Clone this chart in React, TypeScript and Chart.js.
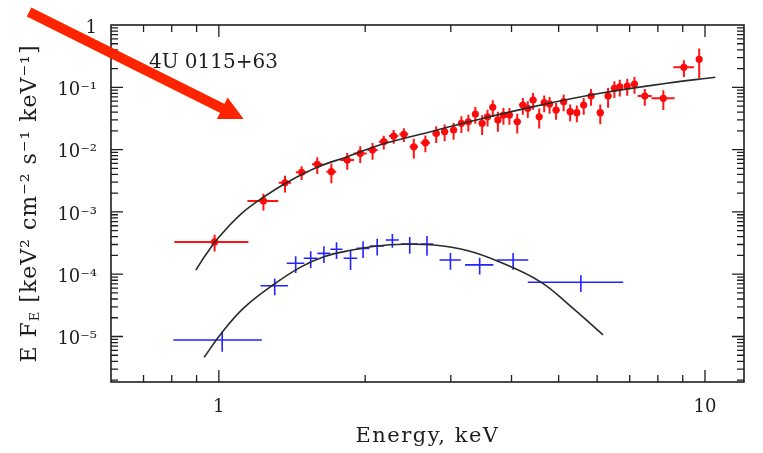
import React, { useEffect, useRef } from 'react';
import { Chart, registerables } from 'chart.js';

Chart.register(...registerables);

// ---- Red spectrum (data points) ----
const redEnergy = [0.98, 1.235, 1.368, 1.48, 1.594, 1.704, 1.837, 1.954, 2.071, 2.184, 2.289, 2.402, 2.518, 2.66, 2.8, 2.914, 3.04, 3.155, 3.26, 3.37, 3.48, 3.57, 3.66, 3.75, 3.85, 3.96, 4.11, 4.22, 4.32, 4.43, 4.56, 4.67, 4.79, 4.94, 5.12, 5.28, 5.45, 5.63, 5.83, 6.09, 6.32, 6.51, 6.68, 6.92, 7.16, 7.52, 8.21, 9.05, 9.73];
const redFlux = [3.3e-4, 1.5e-3, 2.94e-3, 4.32e-3, 5.81e-3, 4.42e-3, 6.81e-3, 8.7e-3, 9.86e-3, 1.34e-2, 1.65e-2, 1.76e-2, 1.11e-2, 1.29e-2, 1.82e-2, 1.94e-2, 2.06e-2, 2.64e-2, 2.8e-2, 3.73e-2, 2.64e-2, 3.37e-2, 4.77e-2, 2.99e-2, 3.59e-2, 3.59e-2, 2.8e-2, 5.2e-2, 4.6e-2, 6.25e-2, 3.37e-2, 5.66e-2, 5.4e-2, 4.32e-2, 5.87e-2, 4.06e-2, 3.92e-2, 5.2e-2, 7.25e-2, 3.92e-2, 7.25e-2, 9.64e-2, 0.102, 0.105, 0.113, 7.25e-2, 6.65e-2, 0.209, 0.281];
const redEnergyErr = [0.17, 0.09, 0.04, 0.04, 0.04, 0.04, 0.06, 0.06, 0.05, 0.05, 0.05, 0.05, 0.05, 0.06, 0.05, 0.05, 0.05, 0.05, 0.05, 0.05, 0.05, 0.05, 0.05, 0.05, 0.05, 0.05, 0.07, 0.07, 0.07, 0.07, 0.07, 0.07, 0.07, 0.08, 0.08, 0.08, 0.08, 0.09, 0.09, 0.1, 0.1, 0.1, 0.1, 0.1, 0.12, 0.25, 0.45, 0.44, 0.1];
const redFluxRel = [0.3, 0.3, 0.3, 0.25, 0.3, 0.35, 0.3, 0.3, 0.3, 0.25, 0.25, 0.25, 0.35, 0.3, 0.3, 0.3, 0.3, 0.3, 0.3, 0.3, 0.35, 0.3, 0.3, 0.35, 0.3, 0.3, 0.35, 0.3, 0.3, 0.3, 0.35, 0.3, 0.3, 0.3, 0.3, 0.3, 0.3, 0.3, 0.3, 0.35, 0.35, 0.3, 0.3, 0.3, 0.3, 0.3, 0.35, 0.3, 0.5];

// ---- Blue spectrum (data points) ----
const blueEnergy = [1.016, 1.303, 1.439, 1.545, 1.645, 1.746, 1.866, 1.98, 2.117, 2.275, 2.47, 2.68, 2.995, 3.44, 4.03, 5.555];
const blueFlux = [8.8e-6, 6.54e-5, 1.5e-4, 1.8e-4, 2.16e-4, 2.51e-4, 1.8e-4, 2.6e-4, 2.84e-4, 3.54e-4, 3.05e-4, 3.05e-4, 1.69e-4, 1.41e-4, 1.69e-4, 7.41e-5];
const blueEnergyErr = [0.21, 0.085, 0.06, 0.05, 0.05, 0.05, 0.06, 0.06, 0.07, 0.07, 0.1, 0.08, 0.15, 0.23, 0.3, 1.235];
const blueFluxRel = [0.35, 0.3, 0.3, 0.3, 0.3, 0.3, 0.35, 0.3, 0.3, 0.25, 0.3, 0.35, 0.3, 0.3, 0.3, 0.3];

// ---- Model curves ----
const modelRedEnergy = [0.897, 0.94, 0.994, 1.11, 1.239, 1.384, 1.594, 1.837, 2.184, 2.725, 3.24, 4.44, 6.09, 8.34, 10.5];
const modelRedFlux = [1.17e-4, 2.05e-4, 3.7e-4, 9.2e-4, 1.75e-3, 3.0e-3, 5.2e-3, 7.7e-3, 1.24e-2, 1.94e-2, 2.75e-2, 4.9e-2, 8.01e-2, 0.116, 0.145];
const modelBlueEnergy = [0.933, 1.0095, 1.127, 1.299, 1.473, 1.645, 1.866, 2.117, 2.402, 2.77, 3.24, 3.76, 4.58, 5.28, 6.17];
const modelBlueFlux = [4.64e-6, 1.1e-5, 2.9e-5, 6.9e-5, 1.3e-4, 1.91e-4, 2.42e-4, 2.84e-4, 3.02e-4, 2.94e-4, 2.4e-4, 1.6e-4, 7.6e-5, 3.1e-5, 1.06e-5];

// ---- Tick labels ----
const xTickValues = [1, 10];
const xTickLabels = ['1', '10'];
const yTickValues = [1, 0.1, 0.01, 1e-3, 1e-4, 1e-5];
const yTickLabels = ['1', '10⁻¹', '10⁻²', '10⁻³', '10⁻⁴', '10⁻⁵'];

const sourceLabel = '4U 0115+63';
const xTitle = 'Energy, keV';

const FONT = "'DejaVu Serif', 'Liberation Serif', serif";
const INK = '#1e1e1e';

function matchLabel(values: number[], labels: string[], v: number) {
  const i = values.findIndex((t) => Math.abs(t / v - 1) < 1e-6);
  return i >= 0 ? labels[i] : '';
}

function logTicks(min: number, max: number) {
  const out: { v: number; major: boolean }[] = [];
  for (let e = Math.floor(Math.log10(min)); e <= Math.ceil(Math.log10(max)); e++) {
    for (let m = 1; m <= 9; m++) {
      const v = m * Math.pow(10, e);
      if (v > min * 1.0005 && v < max * 0.9995) out.push({ v, major: m === 1 });
    }
  }
  return out;
}

const errorBarsPlugin = {
  id: 'errorBars',
  beforeDatasetDraw(chart: any, args: any) {
    const ds: any = chart.data.datasets[args.index];
    const eb = ds.errorBars;
    if (!eb) return;
    const { ctx, scales, chartArea } = chart;
    const x = scales.x, y = scales.y;
    ctx.save();
    ctx.beginPath();
    ctx.rect(chartArea.left, chartArea.top, chartArea.right - chartArea.left, chartArea.bottom - chartArea.top);
    ctx.clip();
    ctx.strokeStyle = eb.color;
    ctx.lineWidth = eb.width;
    ctx.beginPath();
    ds.data.forEach((p: any, i: number) => {
      const px = x.getPixelForValue(p.x);
      const py = y.getPixelForValue(p.y);
      ctx.moveTo(x.getPixelForValue(eb.xLo[i]), py);
      ctx.lineTo(x.getPixelForValue(eb.xHi[i]), py);
      ctx.moveTo(px, y.getPixelForValue(eb.yLo[i]));
      ctx.lineTo(px, y.getPixelForValue(eb.yHi[i]));
    });
    ctx.stroke();
    ctx.restore();
  },
};

const framePlugin = {
  id: 'frame',
  afterDatasetsDraw(chart: any) {
    const { ctx, chartArea, scales } = chart;
    const { left, right, top, bottom } = chartArea;
    const x = scales.x, y = scales.y;
    ctx.save();
    ctx.strokeStyle = INK;
    ctx.lineWidth = 1.6;
    ctx.strokeRect(left, top, right - left, bottom - top);
    ctx.lineWidth = 1.3;
    ctx.beginPath();
    for (const t of logTicks(x.min, x.max)) {
      const px = x.getPixelForValue(t.v);
      const len = t.major ? 12 : 7;
      ctx.moveTo(px, bottom); ctx.lineTo(px, bottom - len);
      ctx.moveTo(px, top); ctx.lineTo(px, top + len);
    }
    for (const t of logTicks(y.min, y.max)) {
      const py = y.getPixelForValue(t.v);
      const len = t.major ? 12 : 7;
      ctx.moveTo(left, py); ctx.lineTo(left + len, py);
      ctx.moveTo(right, py); ctx.lineTo(right - len, py);
    }
    ctx.stroke();
    ctx.restore();
  },
};

// annotation anchors in data coordinates (energy, flux)
const arrowFrom = { x: 0.407, y: 1.62 };
const arrowTo = { x: 1.125, y: 0.031 };
const labelAt = { x: 0.718, y: 0.245 };

const annotationPlugin = {
  id: 'annot',
  afterDraw(chart: any) {
    const { ctx, chartArea, scales } = chart;
    const x = scales.x, y = scales.y;
    ctx.save();
    // source label
    ctx.fillStyle = INK;
    ctx.font = `20px ${FONT}`;
    ctx.textAlign = 'left';
    ctx.textBaseline = 'middle';
    ctx.fillText(sourceLabel, x.getPixelForValue(labelAt.x), y.getPixelForValue(labelAt.y));

    // x title
    ctx.textAlign = 'center';
    ctx.font = `21px ${FONT}`;
    (ctx as any).letterSpacing = '1.5px';
    ctx.fillText(xTitle, (chartArea.left + chartArea.right) / 2, 437);

    // y title with subscript
    (ctx as any).letterSpacing = '1px';
    const parts = [
      { t: 'E F', size: 22, dy: 0 },
      { t: 'E', size: 13, dy: 6 },
      { t: ' [keV² cm⁻² s⁻¹ keV⁻¹]', size: 22, dy: 0 },
    ];
    let total = 0;
    const widths = parts.map((p) => {
      ctx.font = `${p.size}px ${FONT}`;
      const w = ctx.measureText(p.t).width;
      total += w;
      return w;
    });
    ctx.save();
    ctx.translate(30, (chartArea.top + chartArea.bottom) / 2);
    ctx.rotate(-Math.PI / 2);
    ctx.textAlign = 'left';
    let cx = -total / 2;
    parts.forEach((p, i) => {
      ctx.font = `${p.size}px ${FONT}`;
      ctx.fillText(p.t, cx, p.dy);
      cx += widths[i];
    });
    ctx.restore();
    (ctx as any).letterSpacing = '0px';

    // arrow
    const x0 = x.getPixelForValue(arrowFrom.x), y0 = y.getPixelForValue(arrowFrom.y);
    const x1 = x.getPixelForValue(arrowTo.x), y1 = y.getPixelForValue(arrowTo.y);
    const dx = x1 - x0, dy = y1 - y0;
    const L = Math.hypot(dx, dy);
    const ux = dx / L, uy = dy / L;
    const nx = -uy, ny = ux;
    const headLen = 24, headHalf = 12;
    const bx = x1 - ux * headLen, by = y1 - uy * headLen;
    ctx.strokeStyle = 'rgb(255,36,0)';
    ctx.fillStyle = 'rgb(255,36,0)';
    ctx.lineWidth = 10;
    ctx.lineCap = 'butt';
    ctx.beginPath();
    ctx.moveTo(x0, y0);
    ctx.lineTo(bx + ux * 2, by + uy * 2);
    ctx.stroke();
    ctx.beginPath();
    ctx.moveTo(x1, y1);
    ctx.lineTo(bx + nx * headHalf, by + ny * headHalf);
    ctx.lineTo(bx - nx * headHalf, by - ny * headHalf);
    ctx.closePath();
    ctx.fill();
    ctx.restore();
  },
};

export default function App() {
  const ref = useRef<HTMLCanvasElement | null>(null);

  useEffect(() => {
    if (!ref.current) return;
    const redPts = redEnergy.map((e, i) => ({ x: e, y: redFlux[i] }));
    const bluePts = blueEnergy.map((e, i) => ({ x: e, y: blueFlux[i] }));
    const chart = new Chart(ref.current, {
      type: 'scatter',
      data: {
        datasets: [
          {
            type: 'line',
            label: 'model red',
            data: modelRedEnergy.map((e, i) => ({ x: e, y: modelRedFlux[i] })),
            borderColor: '#2a2a2a',
            borderWidth: 1.6,
            pointRadius: 0,
            tension: 0.4,
            fill: false,
          } as any,
          {
            type: 'line',
            label: 'model blue',
            data: modelBlueEnergy.map((e, i) => ({ x: e, y: modelBlueFlux[i] })),
            borderColor: '#2a2a2a',
            borderWidth: 1.6,
            pointRadius: 0,
            tension: 0.4,
            fill: false,
          } as any,
          {
            label: 'red',
            data: redPts,
            pointRadius: 3.6,
            pointBackgroundColor: 'rgb(255,10,10)',
            pointBorderWidth: 0,
            errorBars: {
              color: 'rgb(255,20,20)',
              width: 2,
              xLo: redEnergy.map((e, i) => e - redEnergyErr[i]),
              xHi: redEnergy.map((e, i) => e + redEnergyErr[i]),
              yLo: redFlux.map((f, i) => f * (1 - redFluxRel[i])),
              yHi: redFlux.map((f, i) => f * (1 + redFluxRel[i])),
            },
          } as any,
          {
            label: 'blue',
            data: bluePts,
            pointRadius: 0,
            errorBars: {
              color: 'rgb(35,35,255)',
              width: 1.6,
              xLo: blueEnergy.map((e, i) => e - blueEnergyErr[i]),
              xHi: blueEnergy.map((e, i) => e + blueEnergyErr[i]),
              yLo: blueFlux.map((f, i) => f * (1 - blueFluxRel[i])),
              yHi: blueFlux.map((f, i) => f * (1 + blueFluxRel[i])),
            },
          } as any,
        ],
      },
      options: {
        responsive: false,
        animation: false,
        events: [],
        layout: { padding: { top: 25, right: 19, left: 0, bottom: 0 } },
        plugins: { legend: { display: false }, tooltip: { enabled: false }, title: { display: false } },
        scales: {
          x: {
            type: 'logarithmic',
            min: 0.603,
            max: 12.03,
            grid: { display: false, drawTicks: false },
            border: { display: false },
            ticks: {
              autoSkip: false,
              maxRotation: 0,
              padding: 15,
              color: INK,
              font: { family: FONT, size: 18 },
              callback: (v: any) => matchLabel(xTickValues, xTickLabels, Number(v)),
            },
            afterFit: (s: any) => { s.height = 71; },
          },
          y: {
            type: 'logarithmic',
            min: 1.862e-6,
            max: 1,
            grid: { display: false, drawTicks: false },
            border: { display: false },
            ticks: {
              autoSkip: false,
              padding: 14,
              labelOffset: 3,
              color: INK,
              font: { family: FONT, size: 18 },
              callback: (v: any) => matchLabel(yTickValues, yTickLabels, Number(v)),
            },
            afterFit: (s: any) => { s.width = 111; },
          },
        },
      } as any,
      plugins: [errorBarsPlugin, framePlugin, annotationPlugin],
    });
    return () => chart.destroy();
  }, []);

  return (
    <div style={{ position: 'fixed', left: 0, top: 0, width: 763, height: 453, background: '#fff' }}>
      <canvas ref={ref} width={763} height={453} style={{ width: 763, height: 453, display: 'block' }} />
    </div>
  );
}
